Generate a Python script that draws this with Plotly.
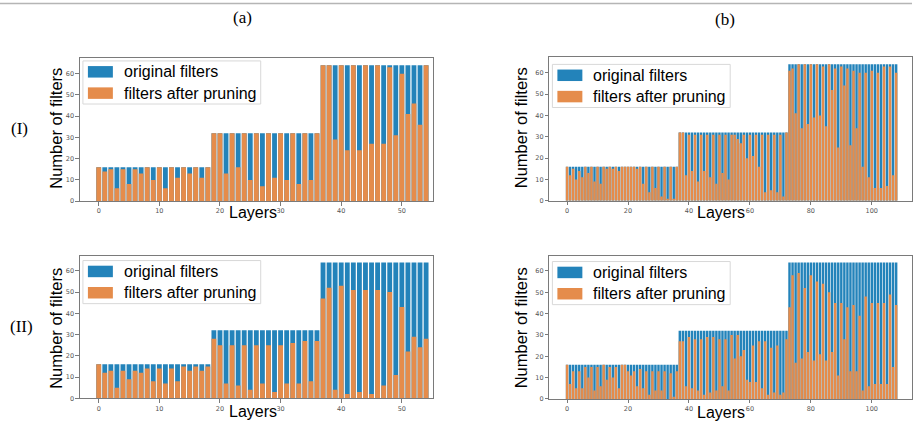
import plotly.graph_objects as go

# ---------------- data ----------------
layers_a = list(range(55))
original_a = [16, 16, 16, 16, 16, 16, 16, 16, 16, 16, 16, 16, 16, 16, 16, 16, 16, 16, 16,
              32, 32, 32, 32, 32, 32, 32, 32, 32, 32, 32, 32, 32, 32, 32, 32, 32, 32,
              64, 64, 64, 64, 64, 64, 64, 64, 64, 64, 64, 64, 64, 64, 64, 64, 64, 64]
pruned_a_I = [16, 14, 15, 6, 15, 8, 15, 13, 16, 10, 16, 6, 16, 11, 16, 13, 16, 11, 16,
              32, 32, 13, 32, 16, 32, 10, 32, 7, 32, 11, 32, 10, 32, 8, 32, 10, 32,
              64, 64, 29, 64, 24, 64, 24, 64, 27, 64, 27, 63, 31, 60, 41, 46, 36, 64]
pruned_a_II = [16, 12, 13, 5, 13, 9, 13, 12, 14, 8, 14, 7, 14, 8, 15, 13, 15, 13, 15,
               28, 25, 7, 25, 6, 25, 4, 25, 7, 25, 3, 25, 7, 26, 7, 27, 8, 27,
               47, 52, 4, 53, 2, 51, 3, 51, 2, 51, 6, 50, 11, 43, 22, 29, 24, 28]

layers_b = list(range(109))
original_b = ([16] * 37) + ([32] * 36) + ([64] * 36)
pruned_b_I = [16, 12, 15, 10, 14, 11, 16, 13, 16, 9, 16, 8, 16, 15, 16, 15, 16, 14, 16, 16,
              16, 16, 16, 15, 16, 8, 16, 4, 16, 6, 16, 2, 16, 1, 16, 1, 16,
              32, 32, 12, 31, 14, 31, 9, 31, 14, 31, 11, 31, 8, 31, 13, 31, 10, 31, 31,
              29, 27, 31, 20, 31, 21, 31, 16, 31, 4, 31, 5, 31, 4, 31, 2, 32,
              61, 62, 41, 64, 34, 64, 36, 64, 39, 64, 40, 63, 35, 64, 52, 62, 25, 63,
              54, 62, 26, 61, 34, 60, 16, 60, 11, 61, 6, 60, 6, 63, 7, 63, 12, 60]
pruned_b_II = [16, 7, 13, 5, 13, 5, 15, 10, 15, 4, 15, 6, 16, 9, 15, 10, 15, 5, 16, 16,
               13, 11, 13, 6, 14, 5, 13, 2, 13, 4, 13, 4, 13, 0, 12, 1, 13,
               27, 27, 6, 29, 5, 28, 4, 28, 2, 29, 3, 29, 4, 28, 6, 28, 4, 30, 19,
               30, 20, 23, 9, 8, 25, 8, 27, 5, 27, 2, 24, 3, 25, 2, 3, 28,
               43, 58, 17, 59, 19, 52, 22, 58, 18, 55, 21, 54, 18, 50, 22, 45, 11, 45,
               28, 43, 13, 44, 13, 39, 4, 48, 6, 45, 7, 45, 7, 45, 7, 49, 15, 44]

yticks = [0, 10, 20, 30, 40, 50, 60]
xticks_a = [0, 10, 20, 30, 40, 50]
xticks_b = [0, 20, 40, 60, 80, 100]

# ---------------- style ----------------
W, H = 913, 429
BLUE = "#2383ba"
ORANGE = "#e58c4b"
SPINE = "#7a7a7a"
SANS = "Liberation Sans, Arial, sans-serif"
SERIF = "Liberation Serif, Times New Roman, serif"


def px(x):
    return x / W


def py(y):
    return 1 - y / H


# panels: (L, T, R, B) in pixels, x-range, x ticks, data, legend offset
panels = [
    dict(rect=(80, 59, 433, 203), xr=[-3.1, 55.06], ticks=xticks_a,
         x=layers_a, orig=original_a, pr=pruned_a_I, leg=13.5, lab=(56, 129), lay=(253, 215)),
    dict(rect=(80, 258, 433, 402), xr=[-3.1, 55.06], ticks=xticks_a,
         x=layers_a, orig=original_a, pr=pruned_a_II, leg=16, lab=(56, 331), lay=(253, 415)),
    dict(rect=(550, 58, 913, 202.7), xr=[-5.8, 113.2], ticks=xticks_b,
         x=layers_b, orig=original_b, pr=pruned_b_I, leg=18, lab=(521, 129), lay=(722, 215)),
    dict(rect=(550, 258, 913, 402.7), xr=[-5.8, 113.2], ticks=xticks_b,
         x=layers_b, orig=original_b, pr=pruned_b_II, leg=17, lab=(521, 331), lay=(722, 416)),
]

fig = go.Figure()
shapes = []
annotations = []
layout = {}

for i, p in enumerate(panels):
    n = "" if i == 0 else str(i + 1)
    xa, ya = "x" + n, "y" + n
    L, T, R, B = p["rect"]
    fig.add_trace(go.Bar(x=p["x"], y=p["orig"], name="original filters",
                         marker=dict(color=BLUE, line=dict(width=0)),
                         xaxis=xa, yaxis=ya, showlegend=False))
    fig.add_trace(go.Bar(x=p["x"], y=p["pr"], name="filters after pruning",
                         marker=dict(color=ORANGE, line=dict(width=0)),
                         xaxis=xa, yaxis=ya, showlegend=False))
    common = dict(showline=True, linecolor=SPINE, linewidth=1, mirror=True,
                  ticks="outside", ticklen=3.5, tickcolor=SPINE, tickwidth=1,
                  tickfont=dict(family="DejaVu Sans, sans-serif", size=6.5, color="#555"),
                  showgrid=False, zeroline=False)
    layout["xaxis" + n] = dict(domain=[px(L), px(R)], range=p["xr"], anchor=ya,
                               tickvals=p["ticks"], **common)
    layout["yaxis" + n] = dict(domain=[py(B), py(T)], range=[0, 67.2], anchor=xa,
                               tickvals=yticks, **common)

    # legend
    c1 = T + p["leg"]
    c2 = c1 + 21.5
    shapes.append(dict(type="rect", xref="paper", yref="paper",
                       x0=px(L + 3), x1=px(L + 181), y0=py(c1 - 11), y1=py(c2 + 11),
                       line=dict(color="#d8d8d8", width=1), fillcolor="rgba(255,255,255,0.8)",
                       layer="above"))
    for c, col, txt in [(c1, BLUE, "original filters"), (c2, ORANGE, "filters after pruning")]:
        shapes.append(dict(type="rect", xref="paper", yref="paper",
                           x0=px(L + 8), x1=px(L + 33), y0=py(c + 5.8), y1=py(c - 5.8),
                           line=dict(width=0), fillcolor=col, layer="above"))
        annotations.append(dict(text=txt, x=px(L + 42), y=py(c), xref="paper", yref="paper",
                                xanchor="left", yanchor="middle", showarrow=False,
                                font=dict(family=SANS, size=16, color="black")))
    # axis titles
    annotations.append(dict(text="Number of filters", x=px(p["lab"][0]), y=py(p["lab"][1]),
                            xref="paper", yref="paper", textangle=-90, showarrow=False,
                            xanchor="center", yanchor="middle",
                            font=dict(family=SANS, size=16.5, color="black")))
    annotations.append(dict(text="Layers", x=px(p["lay"][0]), y=py(p["lay"][1]),
                            xref="paper", yref="paper", showarrow=False,
                            xanchor="center", yanchor="middle",
                            font=dict(family=SANS, size=16, color="black")))

# panel labels
for txt, x, y in [("(a)", 243, 18), ("(b)", 726, 20)]:
    annotations.append(dict(text=txt, x=px(x), y=py(y), xref="paper", yref="paper",
                            showarrow=False, xanchor="center", yanchor="middle",
                            font=dict(family=SERIF, size=17, color="black")))
for txt, x, y in [("(I)", 9, 130), ("(II)", 8, 330)]:
    annotations.append(dict(text=txt, x=px(x), y=py(y), xref="paper", yref="paper",
                            showarrow=False, xanchor="left", yanchor="middle",
                            font=dict(family=SERIF, size=17, color="black")))

shapes.append(dict(type="line", xref="paper", yref="paper", x0=0, x1=1, y0=py(3.5), y1=py(3.5),
                   line=dict(color="#b5b5b5", width=1.5)))

fig.update_layout(width=W, height=H, margin=dict(l=0, r=0, t=0, b=0),
                  paper_bgcolor="white", plot_bgcolor="white",
                  barmode="overlay", bargap=0.2, hovermode=False,
                  shapes=shapes, annotations=annotations, **layout)

fig.write_html("out.html", config={"displayModeBar": False, "staticPlot": True},
               post_script="document.body.style.margin='0px';document.body.style.padding='0px';"
                           "document.body.style.overflow='hidden';")
